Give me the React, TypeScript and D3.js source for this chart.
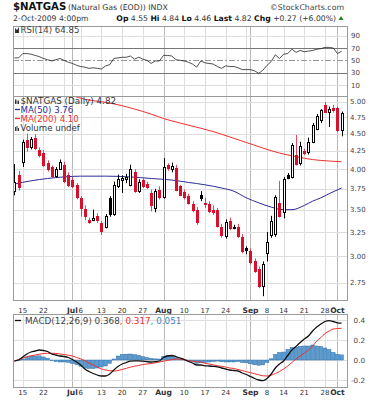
import React from "react";
import * as d3 from "d3";

// ---- Data ----
const opens = [3.72,3.93,4.10,4.40,4.30,4.43,4.26,4.22,4.08,4.03, 3.91,4.01,4.05,3.93,3.86,3.80,3.64,3.51,3.38,3.38, 3.43,3.35,3.31,3.64,3.45,3.79,3.86,3.87,3.80,3.96, 3.72,3.86,3.81,3.70,3.52,3.74,3.65,4.05,4.00,4.02, 3.78,3.71,3.66,3.57,3.50,3.68,3.58,3.57,3.50,3.50, 3.31,3.21,3.37,3.30,3.31,3.20,3.08,3.05,2.95,2.88, 2.72,3.03,3.22,3.23,3.58,3.47,3.92,3.90,4.19,4.08, 4.25,4.23,4.38,4.57,4.70,4.95,4.84,4.89,4.89,4.55];
const highs = [4.07,3.98,4.41,4.50,4.45,4.49,4.30,4.26,4.12,4.05, 4.03,4.13,4.10,3.96,3.90,3.82,3.66,3.55,3.41,3.50, 3.46,3.37,3.45,3.66,3.84,3.93,3.92,3.94,4.06,4.00, 3.87,3.88,3.84,3.74,3.75,3.78,4.15,4.08,4.09,4.06, 3.80,3.74,3.69,3.60,3.53,3.72,3.64,3.60,3.55,3.52, 3.34,3.39,3.41,3.33,3.34,3.23,3.10,3.08,2.98,2.90, 2.95,3.25,3.43,3.67,3.85,3.90,3.95,4.36,4.48,4.38, 4.28,4.44,4.66,4.80,4.88,4.99,4.92,4.95,4.92,4.84];
const lows = [3.67,3.73,4.03,4.24,4.27,4.26,4.16,4.03,3.97,3.89, 3.89,3.99,3.82,3.77,3.76,3.62,3.42,3.38,3.34,3.37, 3.35,3.22,3.29,3.42,3.43,3.76,3.70,3.82,3.78,3.70, 3.70,3.76,3.75,3.48,3.47,3.62,3.63,3.98,3.96,3.72, 3.66,3.62,3.56,3.47,3.33,3.60,3.52,3.46,3.44,3.30, 3.19,3.18,3.27,3.28,3.19,3.03,3.02,2.92,2.84,2.70, 2.63,2.95,3.19,3.20,3.41,3.40,3.87,3.88,4.05,4.05, 4.19,4.20,4.36,4.55,4.66,4.82,4.60,4.82,4.52,4.46];
const closes = [3.84,3.77,4.38,4.31,4.42,4.29,4.19,4.06,4.00,3.91, 4.01,4.10,3.85,3.80,3.79,3.65,3.52,3.43,3.36,3.41, 3.38,3.26,3.43,3.45,3.80,3.87,3.88,3.90,4.00,3.72, 3.84,3.79,3.77,3.56,3.72,3.65,4.03,4.02,4.04,3.74, 3.68,3.65,3.58,3.50,3.36,3.64,3.57,3.48,3.47,3.32, 3.22,3.36,3.30,3.31,3.21,3.05,3.06,2.94,2.86,2.72, 2.93,3.15,3.37,3.65,3.43,3.87,3.89,4.33,4.07,4.32, 4.22,4.38,4.63,4.77,4.86,4.84,4.88,4.87,4.55,4.82];
const firstPrevClose = 3.75;

const ma50Pts: [number, number][] = [[0,3.81],[4,3.85],[8,3.88],[12,3.90],[16,3.91],[22,3.91],[28,3.90],[33,3.88],[38,3.86],[42,3.83],[46,3.80],[50,3.76],[53,3.72],[56,3.64],[59,3.58],[62,3.53],[65,3.50],[67,3.50],[70,3.55],[72,3.60],[74,3.64],[76,3.69],[79,3.76]];
const ma200Pts: [number, number][] = [[14,5.10],[17,5.04],[21,5.00],[25,4.95],[29,4.88],[33,4.80],[36,4.73],[40,4.66],[45,4.58],[48,4.53],[52,4.45],[56,4.37],[60,4.29],[64,4.22],[68,4.17],[72,4.13],[76,4.11],[79,4.10]];

const rsi14 = [54,54,61,61,60,58,56,53,51,49, 51,53,50,47,45,42,40,39,37,38, 37,36,41,43,53,54,55,55,57,52, 55,52,50,45,49,49,58,58,57,51, 50,49,47,44,39,49,46,45,44,40, 37,41,40,40,38,35,35,35,33,29, 34,42,48,59,53,60,61,68,63,66, 64,65,66,68,69,71,71,70,61,64.85];

const macdLine = [-0.01,0.00,0.03,0.06,0.08,0.09,0.10,0.095,0.085,0.06, 0.05,0.04,0.035,0.025,0.005,-0.02,-0.05,-0.09,-0.115,-0.135, -0.15,-0.16,-0.16,-0.14,-0.10,-0.065,-0.04,-0.025,-0.012,-0.008, -0.008,-0.012,-0.017,-0.02,-0.017,-0.01,0.025,0.04,0.045,0.035, 0.02,0.005,-0.015,-0.03,-0.05,-0.05,-0.058,-0.06,-0.063,-0.068, -0.08,-0.09,-0.10,-0.105,-0.11,-0.13,-0.145,-0.165,-0.185,-0.20, -0.207,-0.185,-0.14,-0.08,-0.04,-0.01,0.045,0.10,0.135,0.175, 0.21,0.24,0.29,0.33,0.36,0.385,0.393,0.385,0.372,0.368];
const signalLine = [-0.01,0.005,0.02,0.033,0.042,0.05,0.058,0.065,0.067,0.067, 0.066,0.06,0.055,0.048,0.04,0.025,0.012,-0.008,-0.03,-0.05, -0.07,-0.09,-0.10,-0.107,-0.11,-0.105,-0.095,-0.083,-0.072,-0.062, -0.055,-0.045,-0.04,-0.035,-0.028,-0.02,-0.012,-0.004,0.005,0.01, 0.008,0.002,-0.006,-0.012,-0.017,-0.022,-0.032,-0.04,-0.048,-0.057, -0.063,-0.07,-0.08,-0.085,-0.095,-0.105,-0.117,-0.127,-0.137,-0.148, -0.158,-0.16,-0.152,-0.135,-0.115,-0.09,-0.06,-0.025,0.01,0.04, 0.07,0.10,0.14,0.19,0.225,0.265,0.29,0.31,0.315,0.317];

const priceTicks = [2.75,3.0,3.25,3.5,3.75,4.0,4.25,4.5,4.75,5.0];
const rsiTicks = [10,30,50,70,90];
const macdTicks = [-0.2,0,0.2,0.4];
const weekGrid = [2,7,12,16,21,26,31,41,46,51,56,61,65,70,75];
const monthGrid = [14,36,57,78];
const labelIdx = [2,7,14,16,21,26,31,36,41,46,51,57,61,65,70,75,78];
const labelText = ["15","22","Jul","6","13","20","27","Aug","10","17","24","Sep","8","14","21","28","Oct"];

const FONT = "'DejaVu Sans', Verdana, sans-serif";
const RED = "#d8102c";
const GRID = "#dedede";
const MGRID = "#b8b8b8";
const BORDER = "#9a9a9a";

export default function App() {
  const W = 382, H = 400;
  const L = 13, R = 348;
  const rsiTop = 26, rsiBot = 96, mainTop = 96, mainBot = 300, macdTop = 314, macdBot = 387;
  const x = d3.scaleLinear().domain([-0.35, 80.55]).range([L, R]);
  const yR = d3.scaleLinear().domain([0, 100]).range([91.2, 29.5]);
  const yP = d3.scaleLog().domain([2.75, 5]).range([282.7, 101.7]);
  const yM = d3.scaleLinear().domain([-0.2, 0.4]).range([380, 320]);

  const rsiPath = d3.line<number>().x((_, i) => x(i)).y((d) => yR(d))(rsi14) || "";
  const ma50Path = d3.line<[number, number]>().x((d) => x(d[0])).y((d) => yP(d[1])).curve(d3.curveMonotoneX)(ma50Pts) || "";
  const ma200Path = d3.line<[number, number]>().x((d) => x(d[0])).y((d) => yP(d[1])).curve(d3.curveMonotoneX)(ma200Pts) || "";
  const macdPath = d3.line<number>().x((_, i) => x(i)).y((d) => yM(d)).curve(d3.curveMonotoneX)(macdLine) || "";
  const sigPath = d3.line<number>().x((_, i) => x(i)).y((d) => yM(d)).curve(d3.curveMonotoneX)(signalLine) || "";
  const step = x(1) - x(0);

  const vGrid = (top: number, bot: number) => (
    <g>
      {weekGrid.map((i) => (
        <line key={"w" + i} x1={Math.round(x(i)) + 0.5} x2={Math.round(x(i)) + 0.5} y1={top} y2={bot} stroke={GRID} />
      ))}
      {monthGrid.map((i) => (
        <line key={"m" + i} x1={Math.round(x(i)) + 0.5} x2={Math.round(x(i)) + 0.5} y1={top} y2={bot} stroke={MGRID} />
      ))}
    </g>
  );

  const candles = closes.map((c, i) => {
    const o = opens[i], h = highs[i], l = lows[i];
    const prev = i === 0 ? firstPrevClose : closes[i - 1];
    const col = c >= prev ? "#000" : RED;
    const filled = c < o;
    const px = Math.round(x(i));
    const top = Math.round(yP(Math.max(o, c)));
    const bot = Math.max(top + 1, Math.round(yP(Math.min(o, c))));
    return (
      <g key={i}>
        <line x1={px + 0.5} x2={px + 0.5} y1={yP(h)} y2={yP(l)} stroke={col} strokeWidth={1} opacity={col === RED ? 0.75 : 1} />
        <rect x={px - 0.5} y={top + 0.5} width={2} height={bot - top} fill={filled ? col : "#fff"} stroke={col} strokeWidth={1} />
      </g>
    );
  });

  const hist = macdLine.map((m, i) => {
    const v = m - signalLine[i];
    const y0 = yM(0), y1 = yM(v);
    return (
      <rect key={i} x={x(i) - step / 2 + 0.3} width={step - 0.6} y={Math.min(y0, y1)} height={Math.abs(y1 - y0)} fill="#5a9bd0" stroke="#2e6da4" strokeWidth={0.5} />
    );
  });

  const xLabels = (y: number) =>
    labelIdx.map((i, k) => {
      const t = labelText[k];
      const month = /[A-Za-z]/.test(t);
      return (
        <text key={k} x={x(i)} y={y} textAnchor="middle" fontSize={month ? 7.6 : 7} fontWeight={month ? "bold" : "normal"} fill="#333">
          {t}
        </text>
      );
    });

  return (
    <div style={{ width: W, height: H }}>
      <style>{`body{margin:0}`}</style>
      <svg width={W} height={H} style={{ display: "block", fontFamily: FONT }}>
        <defs>
          <clipPath id="cR"><rect x={L} y={rsiTop} width={R - L} height={rsiBot - rsiTop} /></clipPath>
          <clipPath id="cP"><rect x={L} y={mainTop} width={R - L} height={mainBot - mainTop} /></clipPath>
          <clipPath id="cM"><rect x={L} y={macdTop} width={R - L} height={macdBot - macdTop} /></clipPath>
        </defs>
        <rect width={W} height={H} fill="#fff" />

        {/* Header */}
        <text x={13} y={10} fontSize={10.2} fontWeight="bold" fill="#111">$NATGAS</text>
        <text x={68} y={10} fontSize={7.8} fill="#333">(Natural Gas (EOD)) INDX</text>
        <text x={344} y={10} fontSize={7.8} fill="#444" textAnchor="end">©StockCharts.com</text>
        <text x={13} y={20.5} fontSize={7.7} fill="#333">2-Oct-2009 4:00pm</text>
        <text x={336} y={20.5} fontSize={7.7} fill="#333" textAnchor="end">
          <tspan fontWeight="bold" fill="#111">Op</tspan> 4.55 <tspan fontWeight="bold" fill="#111">Hi</tspan> 4.84 <tspan fontWeight="bold" fill="#111">Lo</tspan> 4.46 <tspan fontWeight="bold" fill="#111">Last</tspan> 4.82 <tspan fontWeight="bold" fill="#111">Chg</tspan> +0.27 (+6.00%)
        </text>
        <path d="M338.5,20 L343.5,20 L341,16 Z" fill="#1a8a1a" />

        {/* RSI panel */}
        {vGrid(rsiTop, rsiBot)}
        {rsiTicks.filter((t) => t === 10 || t === 90).map((t) => (
          <line key={t} x1={L} x2={R} y1={Math.round(yR(t)) + 0.5} y2={Math.round(yR(t)) + 0.5} stroke={GRID} />
        ))}
        {[30, 70].map((t) => (
          <line key={t} x1={L} x2={R} y1={Math.round(yR(t)) + 0.5} y2={Math.round(yR(t)) + 0.5} stroke="#777" />
        ))}
        <line x1={L} x2={R} y1={Math.round(yR(50)) + 0.5} y2={Math.round(yR(50)) + 0.5} stroke="#999" strokeDasharray="6,2,2,2" />
        <g clipPath="url(#cR)">
          <path d={rsiPath} fill="none" stroke="#222" strokeWidth={0.8} />
        </g>
        <rect x={L + 0.5} y={rsiTop + 0.5} width={R - L - 1} height={rsiBot - rsiTop} fill="none" stroke={BORDER} />
        {rsiTicks.map((t) => (
          <text key={t} x={351} y={yR(t) + 2.5} fontSize={7} fill="#444">{t}</text>
        ))}
        <path d="M15,33 L15,28 L17,30 L19,27 L19,33 Z" fill="#333" />
        <text x={20.5} y={33.3} fontSize={8.6} fill="#444">RSI(14) 64.85</text>

        {/* Main panel */}
        {vGrid(mainTop, mainBot)}
        {priceTicks.map((t) => (
          <line key={t} x1={L} x2={R} y1={Math.round(yP(t)) + 0.5} y2={Math.round(yP(t)) + 0.5} stroke={GRID} />
        ))}
        <g clipPath="url(#cP)">
          <path d={ma200Path} fill="none" stroke="#f03030" strokeWidth={1} />
          <path d={ma50Path} fill="none" stroke="#2c2c9a" strokeWidth={1} />
          {candles}
        </g>
        <rect x={L + 0.5} y={mainTop + 0.5} width={R - L - 1} height={mainBot - mainTop} fill="none" stroke={BORDER} />
        {priceTicks.map((t) => (
          <text key={t} x={350} y={yP(t) + 2.5} fontSize={7} fill="#444">{t.toFixed(2)}</text>
        ))}
        {/* legends */}
        <g>
          <rect x={15} y={99.5} width={1.5} height={4.5} fill="#333" />
          <rect x={17.5} y={100.5} width={1.5} height={3.5} fill="#333" />
          <text x={20.5} y={104.3} fontSize={8.8} fill="#333">$NATGAS (Daily) 4.82</text>
          <line x1={15} x2={20} y1={109.5} y2={109.5} stroke="#2c2c9a" strokeWidth={1.3} />
          <text x={20.5} y={113} fontSize={8.6} fill="#2c2c9a">MA(50) 3.76</text>
          <line x1={15} x2={20} y1={118.5} y2={118.5} stroke="#f03030" strokeWidth={1.3} />
          <text x={20.5} y={122} fontSize={8.6} fill="#f03030">MA(200) 4.10</text>
          <rect x={15} y={127} width={1} height={4} fill="#333" />
          <rect x={16.5} y={126} width={1} height={5} fill="#333" />
          <rect x={18} y={128} width={1} height={3} fill="#333" />
          <text x={20.5} y={131} fontSize={8.6} fill="#333">Volume undef</text>
        </g>

        {/* x labels between panels */}
        {xLabels(312.5)}

        {/* MACD panel */}
        {vGrid(macdTop, macdBot)}
        {macdTicks.map((t) => (
          <line key={t} x1={L} x2={R} y1={Math.round(yM(t)) + 0.5} y2={Math.round(yM(t)) + 0.5} stroke={GRID} />
        ))}
        <g clipPath="url(#cM)">
          {hist}
          <path d={sigPath} fill="none" stroke="#f03030" strokeWidth={1} />
          <path d={macdPath} fill="none" stroke="#111" strokeWidth={1.3} />
        </g>
        <rect x={L + 0.5} y={macdTop + 0.5} width={R - L - 1} height={macdBot - macdTop} fill="none" stroke={BORDER} />
        {macdTicks.map((t) => (
          <text key={t} x={365} y={yM(t) + 2.5} fontSize={7.2} fill="#444" textAnchor="end">{t.toFixed(1)}</text>
        ))}
        <line x1={15} x2={21} y1={320.5} y2={320.5} stroke="#111" strokeWidth={1.3} />
        <text x={25} y={324} fontSize={8.8} fill="#444">
          MACD(12,26,9) 0.368<tspan fill="#f03030">, 0.317</tspan><tspan fill="#3a86c8">, 0.051</tspan>
        </text>

        {xLabels(395)}
      </svg>
    </div>
  );
}
